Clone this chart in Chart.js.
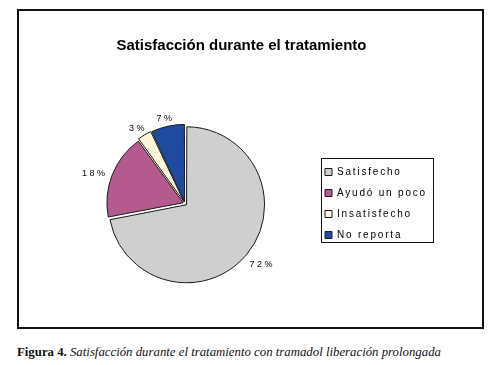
<!DOCTYPE html>
<html>
<head>
<meta charset="utf-8">
<title>Satisfacción durante el tratamiento</title>
<script src="https://cdn.jsdelivr.net/npm/chart.js@4.4.1/dist/chart.umd.min.js"></script>
<style>
  html, body { margin: 0; padding: 0; background: #fff; }
  body { width: 494px; height: 365px; position: relative; overflow: hidden; }
  #frame { position: absolute; left: 17px; top: 9px; width: 463px; height: 316px; border: 2px solid #111; background: #fff; }
  #frame canvas { display: block; }
  #caption {
    position: absolute; left: 17px; top: 345px;
    font-family: "Liberation Serif", "Times New Roman", serif;
    font-size: 12.8px; color: #111; white-space: nowrap;
  }
</style>
</head>
<body>
<div id="frame"><canvas id="satisfaction" width="463" height="316"></canvas></div>
<div id="caption"><b>Figura 4.</b> <i>Satisfacción durante el tratamiento con tramadol liberación prolongada</i></div>
<script>
// datos de la figura
const categories = ["Satisfecho", "Ayudó un poco", "Insatisfecho", "No reporta"];
const percentages = [72, 18, 3, 7];
const sliceColors = ["#cfcfcf", "#b55a8e", "#fdf6d8", "#1e4aa0"];

Chart.defaults.font.family = "'Liberation Sans', Arial, sans-serif";
Chart.defaults.color = "#000";

// legend: fixed width, letter spacing and a thin frame like the Excel one
const legendTweaks = {
  id: "legendTweaks",
  afterInit(chart) {
    const legend = chart.legend;
    const fit = legend.fit.bind(legend);
    const draw = legend.draw.bind(legend);
    legend.fit = function () {
      fit();
      this.width = 113;
    };
    legend.draw = function () {
      const ctx = chart.ctx;
      ctx.save();
      ctx.letterSpacing = "1.8px";
      draw();
      ctx.restore();

      const boxes = this.legendHitBoxes;
      if (!boxes.length) return;
      const first = boxes[0];
      const last = boxes[boxes.length - 1];
      const top = first.top + first.height / 2 - 14;
      const bottom = last.top + last.height / 2 + 7;
      const left = first.left - 4;
      ctx.save();
      ctx.strokeStyle = "#111";
      ctx.lineWidth = 1;
      ctx.strokeRect(Math.round(left) + 0.5, Math.round(top) + 0.5, 112, Math.round(bottom - top));
      ctx.restore();
    };
  }
};

// percent labels outside each slice
const sliceLabels = {
  id: "sliceLabels",
  afterDatasetsDraw(chart) {
    const ctx = chart.ctx;
    const meta = chart.getDatasetMeta(0);
    ctx.save();
    ctx.font = "9px 'Liberation Sans', Arial, sans-serif";
    ctx.letterSpacing = "2.5px";
    ctx.fillStyle = "#000";
    ctx.textBaseline = "middle";
    ctx.textAlign = "left";
    meta.data.forEach((arc, i) => {
      const p = arc.getProps(["x", "y", "startAngle", "endAngle", "outerRadius"], true);
      const mid = (p.startAngle + p.endAngle) / 2;
      const dx = Math.cos(mid);
      const dy = Math.sin(mid);
      const text = percentages[i] + "%";
      const w = ctx.measureText(text).width - 2.5;
      const h = 7;
      const r = p.outerRadius + 11;
      const cx = p.x + dx * r + dx * w / 2;
      const cy = p.y + dy * r + dy * h / 2 + 3;
      ctx.fillText(text, cx - w / 2, cy);
    });
    ctx.restore();
  }
};

const ctx = document.getElementById("satisfaction").getContext("2d");

new Chart(ctx, {
  type: "pie",
  data: {
    labels: categories,
    datasets: [{
      data: percentages,
      backgroundColor: sliceColors,
      borderColor: "#1a1a1a",
      borderWidth: 1,
      offset: 8,
      hoverOffset: 0,
    }],
  },
  options: {
    responsive: false,
    animation: false,
    events: [],
    radius: 76,
    layout: {
      padding: { left: 37, right: 55, top: 0, bottom: 0 },
    },
    plugins: {
      title: {
        display: true,
        text: "Satisfacción durante el tratamiento",
        color: "#000",
        font: { size: 15, weight: "bold" },
        padding: { top: 26, bottom: 25 },
      },
      legend: {
        position: "right",
        fullSize: false,
        labels: {
          boxWidth: 7,
          boxHeight: 7,
          padding: 11,
          color: "#000",
          font: { size: 10 },
        },
      },
      tooltip: { enabled: false },
    },
  },
  plugins: [legendTweaks, sliceLabels],
});
</script>
</body>
</html>
